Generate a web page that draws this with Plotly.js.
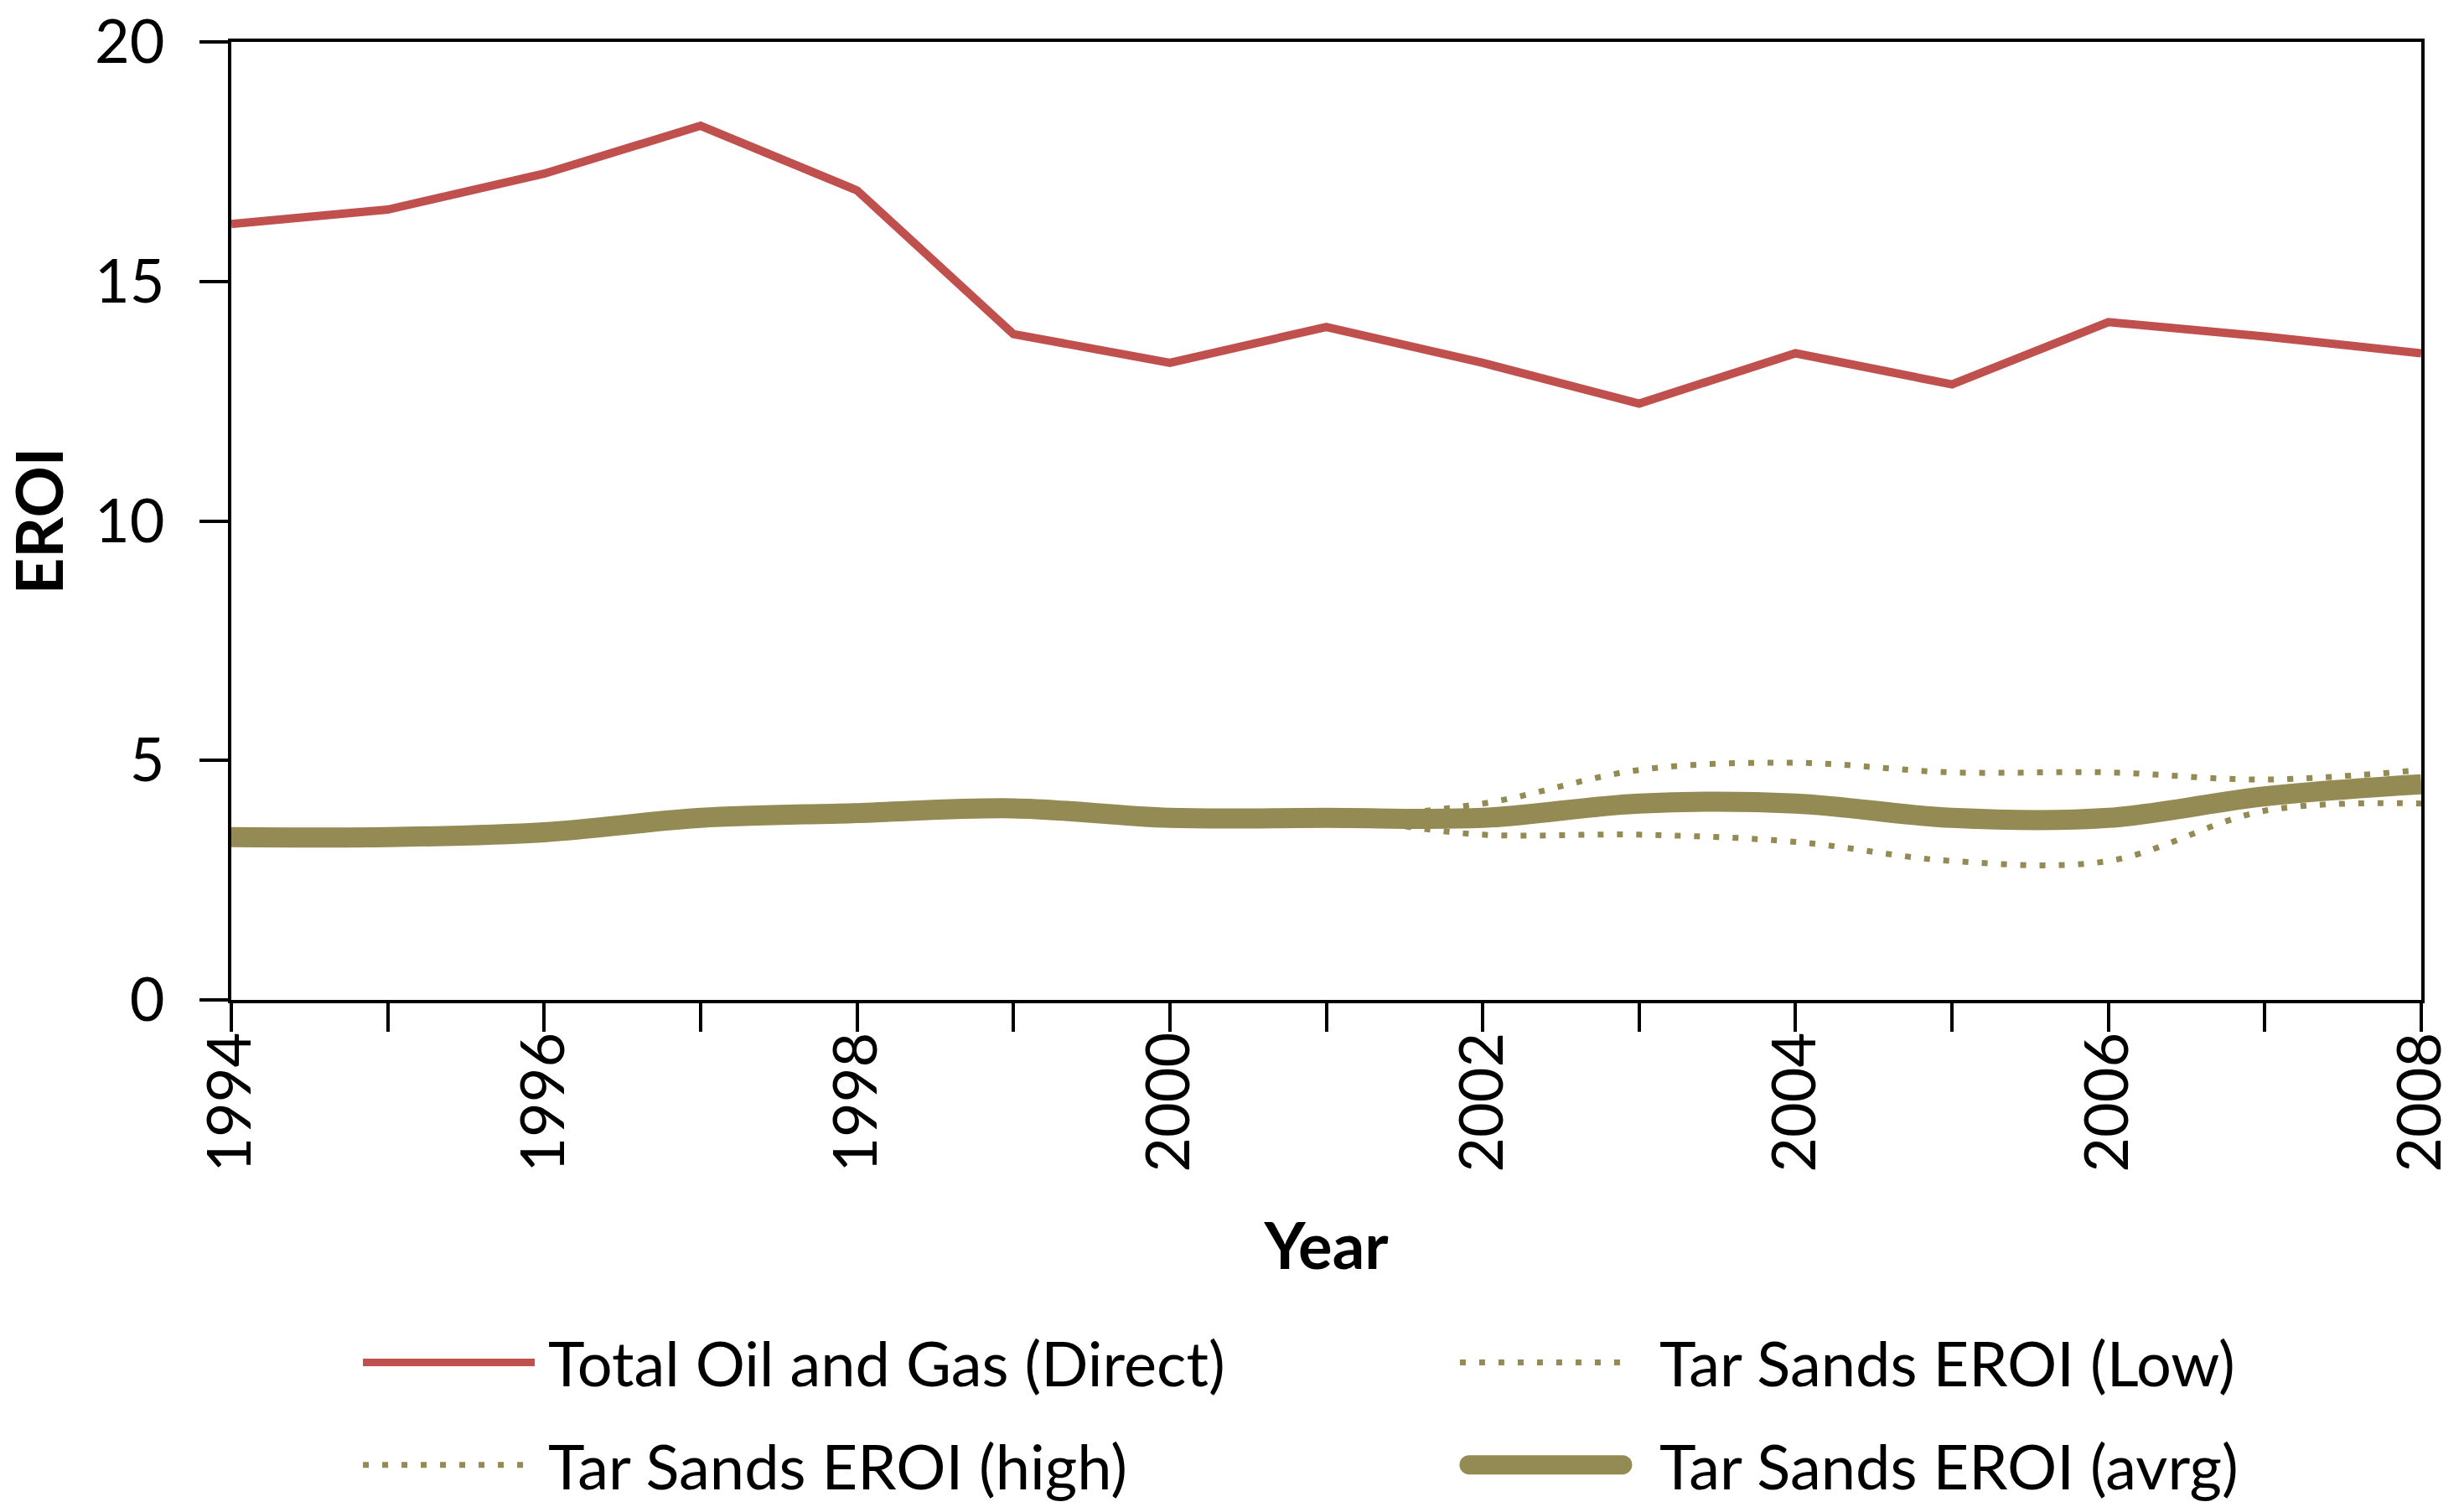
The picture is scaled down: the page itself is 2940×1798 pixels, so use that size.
<!DOCTYPE html>
<html>
<head>
<meta charset="utf-8">
<script src="https://cdn.plot.ly/plotly-3.0.1.min.js"></script>
<style>html,body{margin:0;padding:0;background:#fff;}#chart{width:2940px;height:1798px;}</style>
</head>
<body>
<div id="chart"></div>
<script>
const years = [1994,1995,1996,1997,1998,1999,2000,2001,2002,2003,2004,2005,2006,2007,2008];
const totalOilGas = [16.2,16.5,17.25,18.25,16.9,13.9,13.3,14.05,13.3,12.45,13.5,12.85,14.15,13.85,13.5];
const tarSandsLow = [3.4,3.4,3.5,3.8,3.9,4.0,3.8,3.8,4.1,4.8,4.95,4.75,4.75,4.6,4.8];
const tarSandsHigh = [3.4,3.4,3.5,3.8,3.9,4.0,3.8,3.8,3.45,3.45,3.3,2.9,2.9,3.95,4.1];
const tarSandsAvg = [3.4,3.4,3.5,3.8,3.9,4.0,3.8,3.8,3.8,4.1,4.1,3.8,3.8,4.25,4.5];
const seriesNames = ['Total Oil and Gas (Direct)','Tar Sands EROI (Low)','Tar Sands EROI (high)','Tar Sands EROI (avrg)'];
const yTicks = [0,5,10,15,20];

const red = '#C0504D', olive = '#948A54';
const FONT = 'Lato, "Open Sans", sans-serif';

const traces = [
  {x: years, y: totalOilGas, name: seriesNames[0], type: 'scatter', mode: 'lines',
   line: {color: red, width: 10}, legend: 'legend'},
  {x: years, y: tarSandsLow, name: seriesNames[1], type: 'scatter', mode: 'lines',
   line: {color: olive, width: 7, dash: '7px,16px', shape: 'spline'}, legend: 'legend2'},
  {x: years, y: tarSandsHigh, name: seriesNames[2], type: 'scatter', mode: 'lines',
   line: {color: olive, width: 7, dash: '7px,16px', shape: 'spline'}, legend: 'legend3'},
  {x: years, y: tarSandsAvg, name: seriesNames[3], type: 'scatter', mode: 'lines',
   line: {color: olive, width: 24, shape: 'spline'}, legend: 'legend4'}
];

function legendAt(x, y, iw) {
  return {
    orientation: 'v', xref: 'paper', yref: 'paper', x: x, y: y, xanchor: 'left', yanchor: 'middle',
    font: {family: FONT, size: 74, color: '#000'}, bgcolor: 'rgba(0,0,0,0)', borderwidth: 0,
    itemwidth: iw
  };
}

const layout = {
  width: 2940, height: 1798,
  margin: {l: 276, r: 51, t: 50, b: 605, autoexpand: false},
  paper_bgcolor: '#fff', plot_bgcolor: '#fff',
  font: {family: FONT, size: 72, color: '#000'},
  showlegend: true,
  legend: legendAt(0.0582, -0.3788, 216),
  legend2: legendAt(0.5591, -0.3788, 233),
  legend3: legendAt(0.0582, -0.4856, 216),
  legend4: legendAt(0.5591, -0.4856, 233),
  xaxis: {
    range: [1994, 2008], dtick: 2, tick0: 1994, tickangle: -90,
    ticks: 'outside', ticklen: 34, tickwidth: 4, tickcolor: '#000',
    minor: {dtick: 1, ticks: 'outside', ticklen: 34, tickwidth: 4, tickcolor: '#000'},
    showline: true, linewidth: 4, linecolor: '#000', mirror: true,
    showgrid: false, zeroline: false,
    tickfont: {family: FONT, size: 72, color: '#000'},
    ticklabelstandoff: -28,
    title: {text: 'Year', font: {family: FONT, size: 76, color: '#000', weight: 'bold'}, standoff: 64}
  },
  yaxis: {
    range: [0, 20], tickvals: yTicks,
    ticks: 'outside', ticklen: 34, tickwidth: 4, tickcolor: '#000',
    showline: true, linewidth: 4, linecolor: '#000', mirror: true,
    showgrid: false, zeroline: false,
    tickfont: {family: FONT, size: 72, color: '#000'},
    ticklabelstandoff: 27,
    title: {text: 'EROI', font: {family: FONT, size: 76, color: '#000', weight: 'bold'}, standoff: 40}
  }
};

Plotly.newPlot('chart', traces, layout, {staticPlot: true, displayModeBar: false}).then(function(gd){
  gd.querySelectorAll('.legendlines path').forEach(function(p){
    p.setAttribute('d', 'M5,0h205');
    var dash = p.style.strokeDasharray;
    var col = p.style.stroke || '';
    var isDashed = dash && dash !== 'none' && dash !== '';
    if (!isDashed && col.indexOf('192') !== -1) {
      p.style.strokeWidth = '9px';
    } else if (!isDashed) {
      p.style.strokeWidth = '23px';
      p.style.strokeLinecap = 'round';
      p.setAttribute('d', 'M16,0h183');
    }
  });
});
</script>
</body>
</html>
